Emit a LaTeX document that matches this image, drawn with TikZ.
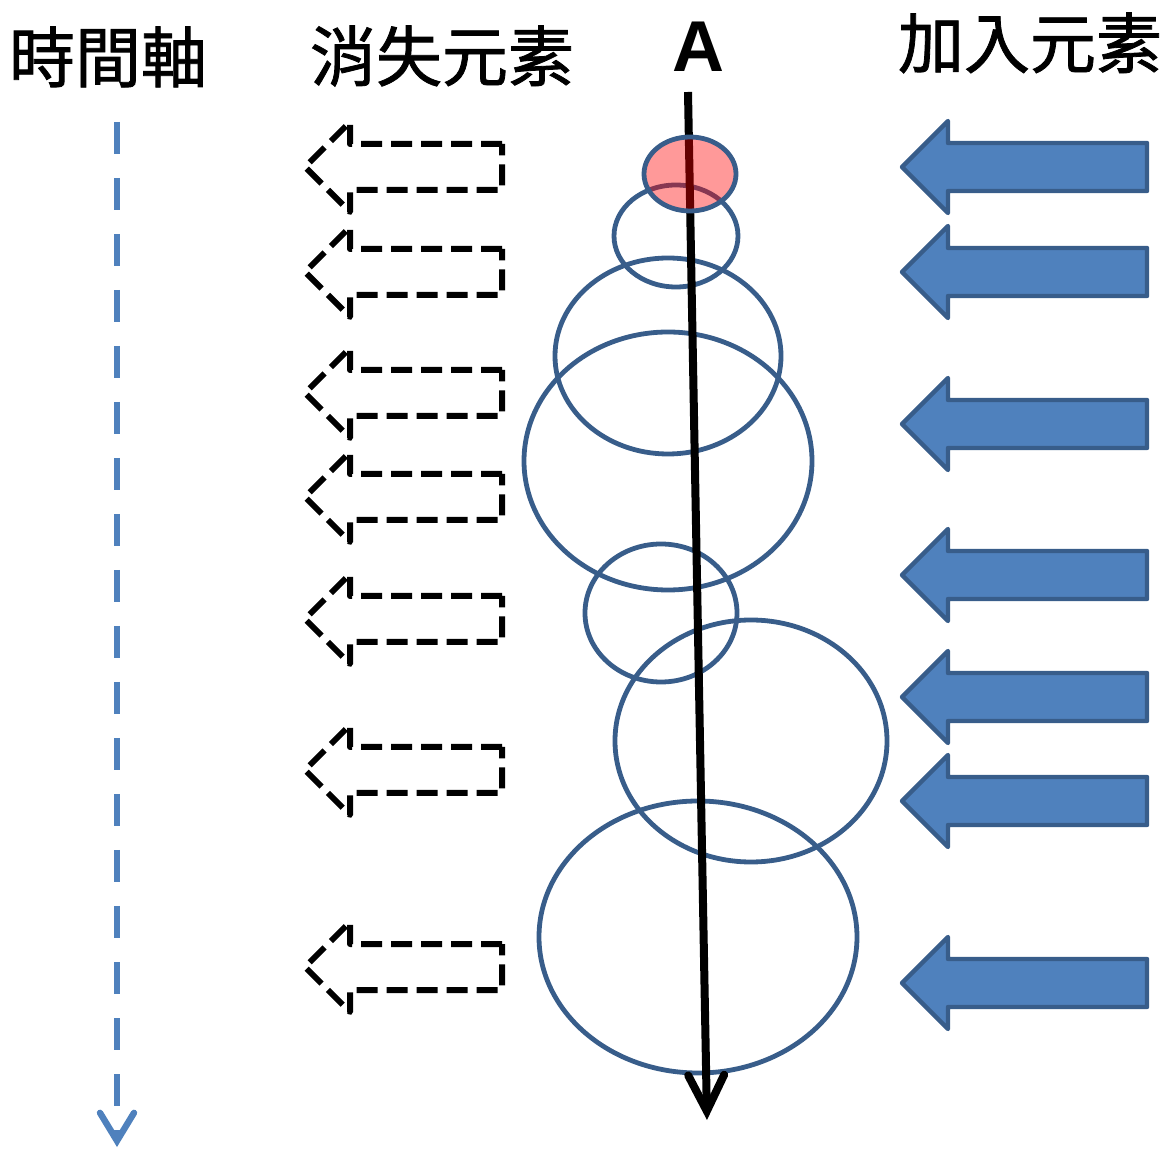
\documentclass[tikz,border=0pt]{standalone}
\usepackage{fontspec}
\usetikzlibrary{arrows.meta}
\newfontfamily\cjk[FakeBold=1.2]{Noto Sans CJK TC}
\newfontfamily\latin{Liberation Sans}
\definecolor{axisblue}{HTML}{4F81BD}
\definecolor{ringblue}{HTML}{385D8A}

\tikzset{
  title/.style={font=\cjk\fontsize{33}{36}\selectfont, anchor=base, inner sep=0pt},
  ring/.style={draw=ringblue, line width=2.4pt},
  outarrow/.style={draw=black, line width=3pt, dash pattern=on 10.5pt off 4.5pt, line join=round},
  inarrow/.style={draw=ringblue, fill=axisblue, line width=2.2pt, line join=round},
  timeline/.style={draw=axisblue, line width=3.2pt, dash pattern=on 16pt off 12pt,
    -{Straight Barb[length=14pt,width=17pt,line cap=round]}},
  pathA/.style={draw=black, line width=4pt,
    -{Straight Barb[length=18pt,width=18pt,line cap=round]}},
}

\begin{document}
\begin{tikzpicture}[x=0.5pt,y=-0.5pt]
\useasboundingbox (0,0) rectangle (1163,1149);

% titles
\node[title] (tAxis) at (108,82) {時間軸};
\node[title] (tOut) at (442,81) {消失元素};
\node[title] (tIn) at (1030,68) {加入元素};
\node[font=\latin\bfseries\fontsize{36}{40}\selectfont, anchor=base, inner sep=0pt] (tA) at (698,72) {A};

% time axis
\coordinate (axisTop) at (117,122);
\coordinate (axisEnd) at (117,1147);
\draw[timeline] (axisTop) -- (axisEnd);

% elements leaving
\foreach \y in {167,272,393,497,619,770,967}
  \draw[outarrow] (502,\y-23) -- (350,\y-23) -- (350,\y-45) -- (305,\y)
    -- (350,\y+45) -- (350,\y+23) -- (502,\y+23) -- cycle;

% elements joining
\foreach \y in {167,272,424,575,697,801,983}
  \draw[inarrow] (1147,\y-24) -- (948,\y-24) -- (948,\y-46) -- (902,\y)
    -- (948,\y+46) -- (948,\y+24) -- (1147,\y+24) -- cycle;

% groups over time
\draw[ring] (676,236) ellipse [x radius=62, y radius=51];
\draw[ring] (668,356) ellipse [x radius=113, y radius=98];
\draw[ring] (668,461) ellipse [x radius=144, y radius=129];
\draw[ring] (661,613) ellipse [x radius=76, y radius=69];
\draw[ring] (751,741) ellipse [x radius=136, y radius=121];
\draw[ring] (698,937) ellipse [x radius=159, y radius=136];

% path of A
\coordinate (aTop) at (688,92);
\coordinate (aEnd) at (707,1120);
\draw[pathA] (aTop) -- (aEnd);

% A at the start
\fill[red, fill opacity=0.4] (690,174) ellipse [x radius=46, y radius=37];
\draw[ring] (690,174) ellipse [x radius=46, y radius=37];

\end{tikzpicture}
\end{document}
